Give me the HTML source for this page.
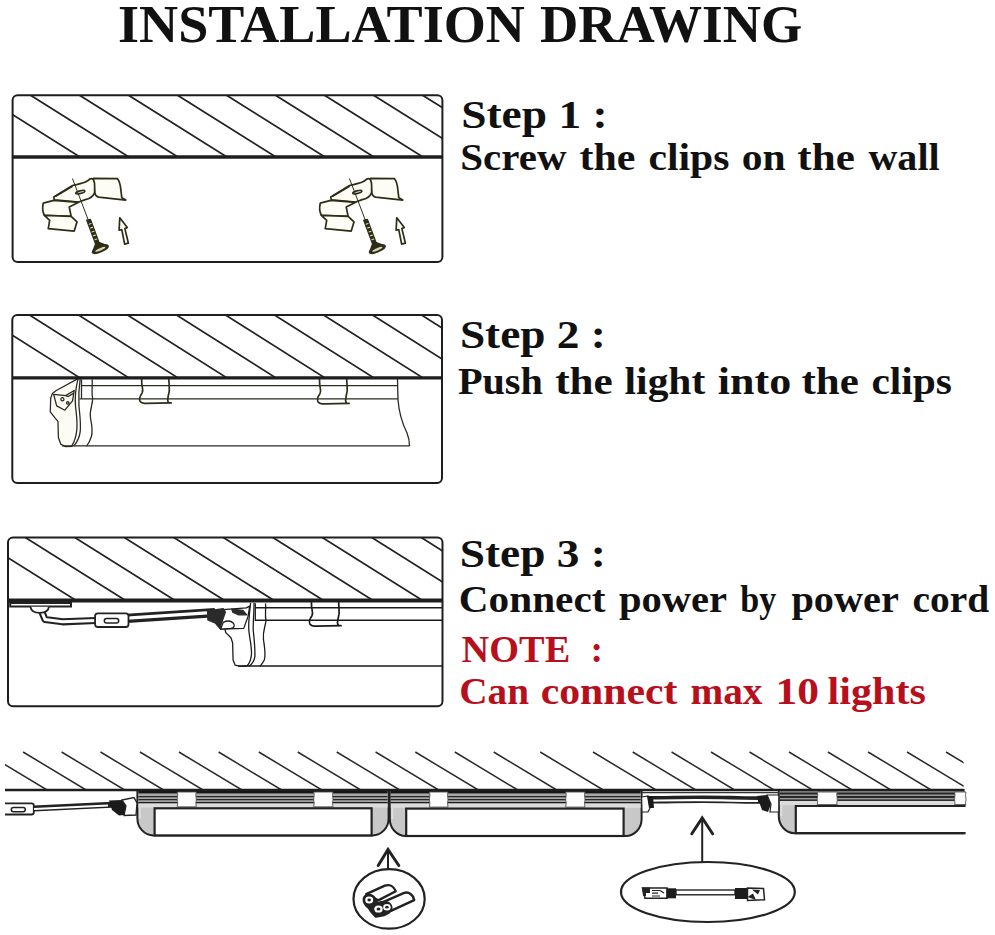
<!DOCTYPE html>
<html><head><meta charset="utf-8"><style>
html,body{margin:0;padding:0;background:#fff;}
body{width:995px;height:935px;overflow:hidden;position:relative;}
svg{position:absolute;left:0;top:0;}
.t{font-family:"Liberation Serif",serif;font-weight:bold;}
</style></head><body>
<svg width="995" height="935" viewBox="0 0 995 935">
<text class="t" x="118" y="42" font-size="53.2" textLength="406.9" lengthAdjust="spacingAndGlyphs" fill="#111">INSTALLATION</text>
<text class="t" x="540" y="42" font-size="53.2" textLength="262.2" lengthAdjust="spacingAndGlyphs" fill="#111">DRAWING</text>
<g class="t" fill="#111">
<text x="461.2" y="128.4" font-size="40" textLength="146.4" lengthAdjust="spacingAndGlyphs">Step 1 :</text>
<text x="460.34" y="170.4" font-size="38" textLength="106.2" lengthAdjust="spacingAndGlyphs">Screw</text><text x="579.5" y="170.4" font-size="38" textLength="55.83" lengthAdjust="spacingAndGlyphs">the</text><text x="648.51" y="170.4" font-size="38" textLength="80.89" lengthAdjust="spacingAndGlyphs">clips</text><text x="741.81" y="170.4" font-size="38" textLength="43.85" lengthAdjust="spacingAndGlyphs">on</text><text x="797.37" y="170.4" font-size="38" textLength="57.38" lengthAdjust="spacingAndGlyphs">the</text><text x="868.4" y="170.4" font-size="38" textLength="71.29" lengthAdjust="spacingAndGlyphs">wall</text>
<text x="459.9" y="347.7" font-size="40" textLength="146" lengthAdjust="spacingAndGlyphs">Step 2 :</text>
<text x="457.94" y="393.7" font-size="38" textLength="84.96" lengthAdjust="spacingAndGlyphs">Push</text><text x="555.16" y="393.7" font-size="38" textLength="57.58" lengthAdjust="spacingAndGlyphs">the</text><text x="624.61" y="393.7" font-size="38" textLength="80.59" lengthAdjust="spacingAndGlyphs">light</text><text x="717.84" y="393.7" font-size="38" textLength="73.43" lengthAdjust="spacingAndGlyphs">into</text><text x="801.47" y="393.7" font-size="38" textLength="57.27" lengthAdjust="spacingAndGlyphs">the</text><text x="871.41" y="393.7" font-size="38" textLength="80.58" lengthAdjust="spacingAndGlyphs">clips</text>
<text x="459.7" y="567.3" font-size="40" textLength="146.1" lengthAdjust="spacingAndGlyphs">Step 3 :</text>
<text x="458.83" y="612.2" font-size="38" textLength="146.59" lengthAdjust="spacingAndGlyphs">Connect</text><text x="618.9" y="612.2" font-size="38" textLength="108.13" lengthAdjust="spacingAndGlyphs">power</text><text x="740.3" y="612.2" font-size="38" textLength="36.03" lengthAdjust="spacingAndGlyphs">by</text><text x="791.4" y="612.2" font-size="38" textLength="107.43" lengthAdjust="spacingAndGlyphs">power</text><text x="912.46" y="612.2" font-size="38" textLength="76.61" lengthAdjust="spacingAndGlyphs">cord</text>
</g>
<g class="t" fill="#b80f1c">
<text x="461.6" y="661.6" font-size="37.5" textLength="108.6" lengthAdjust="spacingAndGlyphs">NOTE</text>
<text x="590.6" y="661.6" font-size="37.5">:</text>
<text x="459.28" y="703.5" font-size="37" textLength="69.78" lengthAdjust="spacingAndGlyphs">Can</text><text x="540.67" y="703.5" font-size="37" textLength="136.81" lengthAdjust="spacingAndGlyphs">connect</text><text x="690.54" y="703.5" font-size="37" textLength="71.98" lengthAdjust="spacingAndGlyphs">max</text><text x="775.46" y="703.5" font-size="37" textLength="43.62" lengthAdjust="spacingAndGlyphs">10</text><text x="827.56" y="703.5" font-size="37" textLength="98.35" lengthAdjust="spacingAndGlyphs">lights</text>
</g>
<clipPath id="hc0"><rect x="12.6" y="95.2" width="429.8" height="61.8"/></clipPath>
<path clip-path="url(#hc0)" d="M-18.5 95.2L79.9 157.0M30.5 95.2L128.9 157.0M79.5 95.2L177.9 157.0M128.5 95.2L226.9 157.0M177.5 95.2L275.9 157.0M226.5 95.2L324.9 157.0M275.5 95.2L373.9 157.0M324.5 95.2L422.9 157.0M373.5 95.2L471.9 157.0M422.5 95.2L520.9 157.0M471.5 95.2L569.9 157.0" stroke="#222" stroke-width="1.7" fill="none"/>
<clipPath id="hc1"><rect x="12.3" y="315.0" width="429.7" height="62.9"/></clipPath>
<path clip-path="url(#hc1)" d="M-19.5 315.0L80.0 377.9M29.5 315.0L129.0 377.9M78.5 315.0L178.0 377.9M127.5 315.0L227.0 377.9M176.5 315.0L276.0 377.9M225.5 315.0L325.0 377.9M274.5 315.0L374.0 377.9M323.5 315.0L423.0 377.9M372.5 315.0L472.0 377.9M421.5 315.0L521.0 377.9M470.5 315.0L570.0 377.9" stroke="#222" stroke-width="1.7" fill="none"/>
<clipPath id="hc2"><rect x="8.0" y="537.5" width="434.5" height="63.0"/></clipPath>
<path clip-path="url(#hc2)" d="M-24.2 537.5L76.1 600.5M25.3 537.5L125.6 600.5M74.8 537.5L175.1 600.5M124.3 537.5L224.6 600.5M173.8 537.5L274.1 600.5M223.3 537.5L323.6 600.5M272.8 537.5L373.1 600.5M322.3 537.5L422.6 600.5M371.8 537.5L472.1 600.5M421.3 537.5L521.6 600.5M470.8 537.5L571.1 600.5" stroke="#222" stroke-width="1.7" fill="none"/>
<g transform="translate(30 170) scale(0.11056)"><g fill="#fdfdf6" stroke="#2e2e18" stroke-width="15.5" stroke-linejoin="round" stroke-linecap="round">
<path d="M575,75 L790,78 C808,95 818,140 822,180 L830,250 L866,272 L620,245 C600,240 588,225 585,205 L578,130 C560,115 555,95 575,75 Z"/>
<path d="M525,95 C545,70 575,72 578,100 C590,120 582,150 585,205 C570,240 540,262 500,268 L440,290 L220,270 L215,245 L385,140 C430,128 480,125 525,95 Z"/>
<path d="M235,235 L380,150" fill="none"/>
<ellipse cx="455" cy="200" rx="42" ry="12" transform="rotate(-15 455 200)"/>
<path d="M120,300 L215,275 L440,292 L355,335 L372,420 L130,410 C115,380 110,340 120,300 Z"/>
<path d="M130,410 L372,420 L425,470 L400,552 L165,530 L178,455 Z"/>
<path d="M180,455 L372,420" fill="none" stroke-width="0"/>
<path d="M385,80 L528,455" fill="none" stroke-width="9"/>
<path d="M515,455 L545,448 L625,662 L596,672 Z" fill="#2e2e18"/>
<path d="M535,490 L552,484 M548,525 L565,519 M561,560 L578,554 M574,595 L591,589 M587,630 L604,624" stroke="#d8d8b0" stroke-width="10"/>
<path d="M596,668 L626,658 L705,688 L566,746 Z" fill="#2e2e18"/>
<ellipse cx="636" cy="717" rx="74" ry="22" transform="rotate(-23 636 717)" fill="#2e2e18"/>
<ellipse cx="636" cy="717" rx="50" ry="11" transform="rotate(-23 636 717)" fill="#d8d8b0" stroke="none"/>
<path d="M812,432 L880,520 L858,530 L890,662 L856,670 L830,540 L806,545 Z"/>
</g></g>
<g transform="translate(307 170) scale(0.11056)"><g fill="#fdfdf6" stroke="#2e2e18" stroke-width="15.5" stroke-linejoin="round" stroke-linecap="round">
<path d="M575,75 L790,78 C808,95 818,140 822,180 L830,250 L866,272 L620,245 C600,240 588,225 585,205 L578,130 C560,115 555,95 575,75 Z"/>
<path d="M525,95 C545,70 575,72 578,100 C590,120 582,150 585,205 C570,240 540,262 500,268 L440,290 L220,270 L215,245 L385,140 C430,128 480,125 525,95 Z"/>
<path d="M235,235 L380,150" fill="none"/>
<ellipse cx="455" cy="200" rx="42" ry="12" transform="rotate(-15 455 200)"/>
<path d="M120,300 L215,275 L440,292 L355,335 L372,420 L130,410 C115,380 110,340 120,300 Z"/>
<path d="M130,410 L372,420 L425,470 L400,552 L165,530 L178,455 Z"/>
<path d="M180,455 L372,420" fill="none" stroke-width="0"/>
<path d="M385,80 L528,455" fill="none" stroke-width="9"/>
<path d="M515,455 L545,448 L625,662 L596,672 Z" fill="#2e2e18"/>
<path d="M535,490 L552,484 M548,525 L565,519 M561,560 L578,554 M574,595 L591,589 M587,630 L604,624" stroke="#d8d8b0" stroke-width="10"/>
<path d="M596,668 L626,658 L705,688 L566,746 Z" fill="#2e2e18"/>
<ellipse cx="636" cy="717" rx="74" ry="22" transform="rotate(-23 636 717)" fill="#2e2e18"/>
<ellipse cx="636" cy="717" rx="50" ry="11" transform="rotate(-23 636 717)" fill="#d8d8b0" stroke="none"/>
<path d="M812,432 L880,520 L858,530 L890,662 L856,670 L830,540 L806,545 Z"/>
</g></g>
<g transform="translate(40 370) scale(0.08555)"><g fill="none" stroke="#2a2a22" stroke-width="15" stroke-linejoin="round">
<path d="M455,95 L190,240 L145,275 L125,330 L120,490 L175,560 L210,600 L215,790 L245,870 L300,895 L380,893" fill="#fcfcf4"/>
<path d="M445,100 C420,200 405,300 415,420 C425,520 440,600 430,700 C420,800 390,860 370,890"/>
<path d="M470,100 C455,200 450,320 455,420 C465,520 480,620 470,720 C460,800 420,860 395,890"/>
<path d="M485,110 L485,335"/>
<path d="M610,110 C615,200 600,260 615,330 C620,400 575,460 590,560 C610,660 620,720 600,780 C580,840 560,870 545,890"/>
<path d="M160,285 L300,300 L400,240 L380,360 L290,470 L195,420 Z"/>
<circle cx="262" cy="342" r="18"/><circle cx="325" cy="385" r="14"/>
<path d="M300,300 L330,310 L395,270"/>
</g></g>
<path d="M81.5 385.6 H397.5 M79.5 398.8 H397.5 M62 445.8 H409.5 M397.5 379 L398 400 C399 412 403 425 407 433 C409 438 409.5 442 409.5 446" fill="none" stroke="#2a2a22" stroke-width="1.3"/>
<g transform="translate(130 372) scale(0.05025)"><path d="M230,110 L235,250 C250,330 270,370 240,420 C200,480 170,520 200,580 C230,620 280,625 330,625 L820,615 M770,110 L780,260 C790,350 780,420 760,480 L750,560 L760,600" fill="none" stroke="#2e2e18" stroke-width="34" stroke-linecap="round" stroke-linejoin="round"/></g>
<g transform="translate(307.9 372.5) scale(0.05025)"><path d="M230,110 L235,250 C250,330 270,370 240,420 C200,480 170,520 200,580 C230,620 280,625 330,625 L820,615 M770,110 L780,260 C790,350 780,420 760,480 L750,560 L760,600" fill="none" stroke="#2e2e18" stroke-width="34" stroke-linecap="round" stroke-linejoin="round"/></g>
<path d="M10.2 603 H71 V606.6 H10.2 Z" fill="#fff" stroke="#222" stroke-width="2"/>
<path d="M41.5 611 L45 619.5 L62.5 621.8 L96 620.5" fill="none" stroke="#222" stroke-width="7.2" stroke-linejoin="round"/>
<path d="M41.5 611 L45 619.5 L62.5 621.8 L96 620.5" fill="none" stroke="#fff" stroke-width="3" stroke-linejoin="round"/>
<path d="M30.5 606.8 C31 611 35 612.8 40 612.8 C45 612.8 48.5 611 48.8 606.8" fill="#fff" stroke="#222" stroke-width="1.8"/>
<path d="M127 618.4 L215 612.6" fill="none" stroke="#222" stroke-width="9.2" />
<path d="M127 618.2 L207 612.8" fill="none" stroke="#fff" stroke-width="3.2" />
<rect x="95.1" y="613.3" width="33.4" height="13.7" rx="2.8" fill="#fff" stroke="#222" stroke-width="1.8"/>
<rect x="104.3" y="618.5" width="14.4" height="4.6" rx="2.3" fill="#fff" stroke="#222" stroke-width="1.5"/>
<g transform="translate(195 595) scale(0.08555)"><g fill="none" stroke="#1a1a1a" stroke-width="15" stroke-linejoin="round">
<path d="M350,400 L360,440 L420,500 L440,560 L445,760 L470,820 L530,835 L600,830" fill="#fcfcfc"/>
<path d="M330,170 L600,150 L640,130 L620,250 L570,390 L300,400 L290,380 Z" fill="#fff"/>
<path d="M330,320 C370,300 420,300 450,330 C470,360 455,385 420,390 L300,398 Z" fill="#fff"/>
<path d="M150,185 L330,160 L355,200 L320,300 L290,390 L240,330 L150,290 Z" fill="#2a2a2a" stroke="#2a2a2a"/>
<path d="M430,165 L560,180 L605,232 L510,232 L440,200 Z" fill="#2a2a2a" stroke="#2a2a2a"/>
<path d="M650,90 C640,200 620,300 630,420 C640,520 665,600 660,700 C650,780 620,820 600,835"/>
<path d="M690,90 C690,200 680,300 680,400 C690,520 705,620 700,720 C690,790 650,820 630,835"/>
<path d="M705,95 L705,300"/>
<path d="M825,100 C830,180 815,230 830,300 C820,380 790,420 800,520 C815,620 830,700 810,760 C790,800 770,820 760,835"/>
</g></g>
<path d="M255 607.8 H442 M255 620.2 H442 M238 666 H442" fill="none" stroke="#1a1a1a" stroke-width="1.4"/>
<g transform="translate(299.8 594.8) scale(0.05025)"><path d="M230,110 L235,250 C250,330 270,370 240,420 C200,480 170,520 200,580 C230,620 280,625 330,625 L820,615 M770,110 L780,260 C790,350 780,420 760,480 L750,560 L760,600" fill="none" stroke="#1a1a1a" stroke-width="34" stroke-linecap="round" stroke-linejoin="round"/></g>
<rect x="12.6" y="95.2" width="429.8" height="166.9" rx="5" ry="5" fill="none" stroke="#1e1e1e" stroke-width="2.0"/>
<line x1="12.6" y1="157.0" x2="442.4" y2="157.0" stroke="#1e1e1e" stroke-width="3.5"/>
<rect x="12.3" y="315.0" width="429.7" height="168.0" rx="5" ry="5" fill="none" stroke="#1e1e1e" stroke-width="2.0"/>
<line x1="12.3" y1="377.9" x2="442.0" y2="377.9" stroke="#1e1e1e" stroke-width="3.4"/>
<rect x="8.0" y="537.5" width="434.5" height="168.8" rx="5" ry="5" fill="none" stroke="#1e1e1e" stroke-width="2.0"/>
<line x1="8.0" y1="600.5" x2="442.5" y2="600.5" stroke="#1e1e1e" stroke-width="4.0"/>
<clipPath id="hcb"><rect x="5" y="745" width="958.6" height="45"/></clipPath>
<path clip-path="url(#hcb)" d="M-16.0 752.0L47.0 790.0M23.1 752.0L86.1 790.0M61.6 752.0L124.6 790.0M100.5 752.0L163.5 790.0M140.0 752.0L203.0 790.0M178.9 752.0L241.9 790.0M218.6 752.0L281.6 790.0M258.8 752.0L321.8 790.0M297.7 752.0L360.7 790.0M336.7 752.0L399.7 790.0M375.6 752.0L438.6 790.0M415.3 752.0L478.3 790.0M454.8 752.0L517.8 790.0M493.7 752.0L556.7 790.0M540.2 752.0L603.2 790.0M593.0 752.0L656.0 790.0M632.7 752.0L695.7 790.0M671.6 752.0L734.6 790.0M711.0 752.0L774.0 790.0M749.5 752.0L812.5 790.0M789.0 752.0L852.0 790.0M827.9 752.0L890.9 790.0M868.1 752.0L931.1 790.0M907.0 752.0L970.0 790.0M946.0 752.0L1009.0 790.0" stroke="#2a2a2a" stroke-width="1.5" fill="none"/>
<path d="M137.4 790 V818.4 A16 17 0 0 0 153.4 835.4 H372.6 A16 17 0 0 0 388.6 818.4 V790 Z" fill="#c8c8c8" stroke="#222" stroke-width="2"/><line x1="139.9" y1="804.8" x2="139.9" y2="818.4" stroke="#dedede" stroke-width="2"/><rect x="138.4" y="791" width="249.20000000000002" height="11.799999999999955" fill="#a8a8a8"/><rect x="138.4" y="789" width="249.20000000000002" height="4.4" fill="#161616"/><line x1="138.4" y1="796.6" x2="387.6" y2="796.6" stroke="#262626" stroke-width="1.1"/><line x1="138.4" y1="799.6" x2="387.6" y2="799.6" stroke="#262626" stroke-width="1.1"/><line x1="138.4" y1="802.8" x2="387.6" y2="802.8" stroke="#1a1a1a" stroke-width="1.4"/><rect x="138.4" y="803.5" width="249.20000000000002" height="4.0" fill="#dcdcdc"/><path d="M177.2 792 C178.7 795 176.2 799 177.7 803 L177.2 806.8 H196.3 L195.8 803 C197.3 799 194.8 795 196.3 792 Z" fill="#fbfbfb" stroke="#555" stroke-width="0.9"/><path d="M313.7 792 C315.2 795 312.7 799 314.2 803 L313.7 806.8 H333 L332.5 803 C334 799 331.5 795 333 792 Z" fill="#fbfbfb" stroke="#555" stroke-width="0.9"/><rect x="154.6" y="808.3" width="217.00000000000003" height="27.100000000000023" fill="#fff" stroke="#222" stroke-width="2.2"/>
<path d="M389.8 790 V819.0 A16 17 0 0 0 405.8 836.0 H625.6 A16 17 0 0 0 641.6 819.0 V790 Z" fill="#c8c8c8" stroke="#222" stroke-width="2"/><line x1="392.3" y1="804.8" x2="392.3" y2="819.0" stroke="#dedede" stroke-width="2"/><rect x="390.8" y="791" width="249.8" height="11.799999999999955" fill="#a8a8a8"/><rect x="390.8" y="789" width="249.8" height="4.4" fill="#161616"/><line x1="390.8" y1="796.6" x2="640.6" y2="796.6" stroke="#262626" stroke-width="1.1"/><line x1="390.8" y1="799.6" x2="640.6" y2="799.6" stroke="#262626" stroke-width="1.1"/><line x1="390.8" y1="802.8" x2="640.6" y2="802.8" stroke="#1a1a1a" stroke-width="1.4"/><rect x="390.8" y="803.5" width="249.8" height="4.300000000000068" fill="#dcdcdc"/><path d="M429.4 792 C430.9 795 428.4 799 429.9 803 L429.4 807.1 H448 L447.5 803 C449 799 446.5 795 448 792 Z" fill="#fbfbfb" stroke="#555" stroke-width="0.9"/><path d="M565.7 792 C567.2 795 564.7 799 566.2 803 L565.7 807.1 H585 L584.5 803 C586 799 583.5 795 585 792 Z" fill="#fbfbfb" stroke="#555" stroke-width="0.9"/><rect x="406.2" y="808.6" width="217.40000000000003" height="27.399999999999977" fill="#fff" stroke="#222" stroke-width="2.2"/>
<path d="M778.8 790 V816.2 A16 17 0 0 0 794.8 833.2 H963.6 V790 Z" fill="#c8c8c8" stroke="#222" stroke-width="2"/><line x1="781.3" y1="802.2" x2="781.3" y2="816.2" stroke="#dedede" stroke-width="2"/><rect x="779.8" y="791" width="183.80000000000007" height="9.200000000000045" fill="#9a9a9a"/><rect x="779.8" y="789" width="183.80000000000007" height="2.0" fill="#161616"/><line x1="779.8" y1="793.5" x2="963.6" y2="793.5" stroke="#262626" stroke-width="2.0"/><line x1="779.8" y1="797.1" x2="963.6" y2="797.1" stroke="#262626" stroke-width="2.0"/><line x1="779.8" y1="800.2" x2="963.6" y2="800.2" stroke="#1a1a1a" stroke-width="1.4"/><rect x="779.8" y="800.9000000000001" width="183.80000000000007" height="4.2999999999999545" fill="#dcdcdc"/><path d="M817.2 792 C818.7 795 816.2 799 817.7 803 L817.2 804.5 H837.3 L836.8 803 C838.3 799 835.8 795 837.3 792 Z" fill="#fbfbfb" stroke="#555" stroke-width="0.9"/><path d="M954.5 792 C956.0 795 953.5 799 955.0 803 L954.5 804.5 H966 L965.5 803 C967 799 964.5 795 966 792 Z" fill="#fbfbfb" stroke="#555" stroke-width="0.9"/><path d="M965.6 806.0 H795.8 V833.2 H965.6" fill="#fff" stroke="#222" stroke-width="2.2"/>
<line x1="5" y1="790" x2="963.6" y2="790" stroke="#1e1e1e" stroke-width="2.6"/>
<path d="M5 803.3 H31.5 Q33.8 803.3 33.8 805.6 V812.2 Q33.8 814.5 31.5 814.5 H5" fill="#fff" stroke="#222" stroke-width="1.8"/>
<rect x="11.3" y="807.5" width="14" height="4.2" rx="2.1" fill="#fff" stroke="#222" stroke-width="1.5"/>
<path d="M33.8 808.4 L112 804.8" stroke="#222" stroke-width="6" fill="none"/>
<path d="M34 809 L108 805.4" stroke="#fff" stroke-width="2" fill="none"/>
<path d="M109 800.5 L122 800 L126 806 L124 815 L119 815.5 L112 810 Z" fill="#1a1a1a"/>
<path d="M122 800 L134 797.5 L137 803 L136 815 L124 815.5 L126 806 Z" fill="#fff" stroke="#222" stroke-width="1.3"/>
<line x1="642" y1="792.6" x2="779" y2="792.6" stroke="#333" stroke-width="1.2"/>
<path d="M648 799.8 C680 799.5 700 798.5 730 799.5 C745 800 755 800 762 800" stroke="#222" stroke-width="7.5" fill="none"/>
<path d="M652 800.6 C680 800.2 700 799.8 730 800.6 C745 801 752 801 758 801" stroke="#fff" stroke-width="2.2" fill="none"/>
<path d="M641.6 797 L648 796 L650 808 L648 812 L642 812 Z" fill="#fff" stroke="#222" stroke-width="1.2"/>
<path d="M647 796 L653 796 L654 808 L649 808 Z" fill="#1a1a1a"/>
<path d="M757 796 L767 795 L771 804 L768 812 L762 810 Z" fill="#1a1a1a"/>
<path d="M767 795 L778.8 795 L778.8 812 L770 812 L771 804 Z" fill="#fff" stroke="#222" stroke-width="1.2"/>
<path d="M388 850 V869" fill="none" stroke="#222" stroke-width="2"/>
<path d="M378.2 865.5 L388 849.5 L398.8 865.5" fill="none" stroke="#222" stroke-width="3" stroke-linecap="round"/>
<path d="M702.2 819 V862" fill="none" stroke="#222" stroke-width="2"/>
<path d="M691.8 833.8 L702.2 818 L712.6 833.8" fill="none" stroke="#222" stroke-width="3" stroke-linecap="round"/>
<ellipse cx="389.1" cy="898.9" rx="35.6" ry="29.8" fill="#fff" stroke="#222" stroke-width="2.2"/>
<ellipse cx="707.9" cy="892" rx="86.9" ry="30" fill="#fff" stroke="#222" stroke-width="2.2"/>
<g transform="translate(330 840) scale(0.12063)"><g stroke="#222" stroke-width="20" stroke-linejoin="round" fill="#fff">
<path d="M300,448 L455,378 C495,365 530,385 545,425 L400,500 Z"/>
<path d="M440,515 L615,438 C655,428 690,452 698,498 L505,588 Z"/>
<path d="M280,495 C280,455 330,445 360,470 C380,490 385,520 400,525 C420,515 460,510 490,525 C515,545 515,580 490,600 L450,622 L380,635 C355,610 340,600 320,560 C300,545 280,530 280,495 Z" fill="#222"/>
<g stroke="none">
<ellipse cx="325" cy="497" rx="33" ry="29"/>
<ellipse cx="402" cy="572" rx="35" ry="30"/>
<ellipse cx="472" cy="557" rx="31" ry="27"/>
<ellipse cx="325" cy="497" rx="15" ry="12" fill="#222"/>
<ellipse cx="402" cy="572" rx="16" ry="13" fill="#222"/>
<ellipse cx="472" cy="557" rx="14" ry="11" fill="#222"/>
</g></g></g>
<path d="M642.5 888 H667 V898.3 H645 Z" fill="#fff" stroke="#222" stroke-width="1.5"/>
<path d="M642 887.5 H650 V893 H646 V896 H643 Z" fill="#222"/>
<path d="M652 890.5 H660 M652 893.2 H658 M652 896 H660 M660 890.5 L664 893" stroke="#222" stroke-width="1.2" fill="none"/>
<rect x="666.5" y="888.3" width="9.5" height="10" fill="#1c1c1c"/>
<rect x="676" y="890" width="59" height="4.8" fill="#fff" stroke="#222" stroke-width="1.4"/>
<rect x="735" y="888" width="12.5" height="11" fill="#1c1c1c"/>
<path d="M747.5 888 L763.5 888.5 L764.5 899.8 L747.5 900.5 Z" fill="#fff" stroke="#222" stroke-width="1.5"/>
<path d="M752 889.5 L760 890 L758 894.5 Z M747.5 897 L753 893.5 L756 900 Z" fill="#222"/>
</svg>
</body></html>
